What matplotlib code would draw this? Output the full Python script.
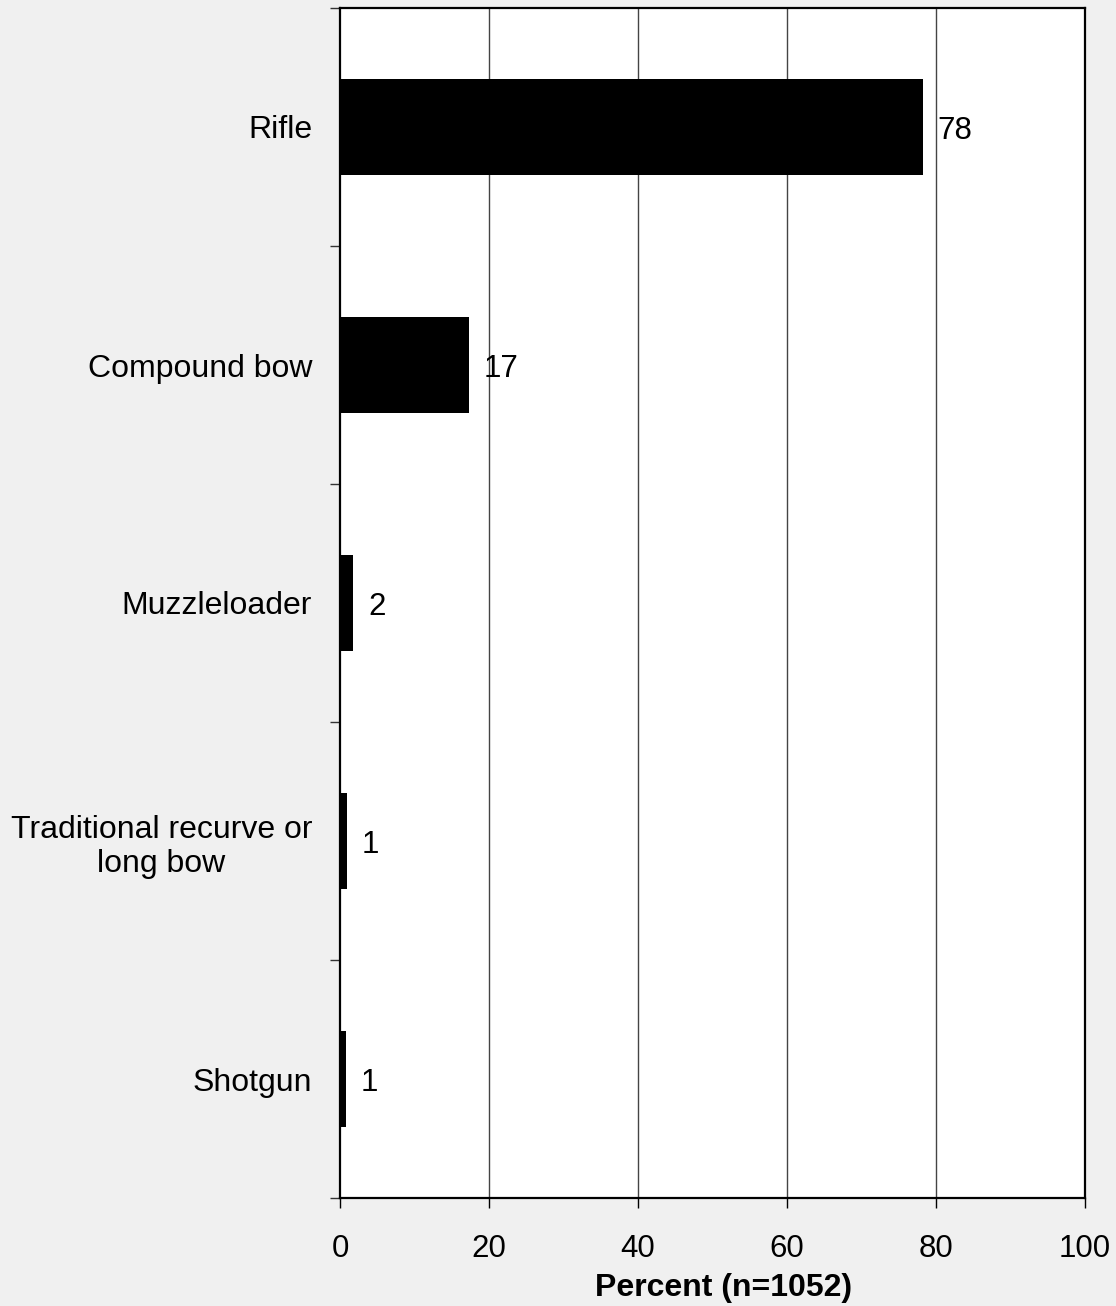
import matplotlib
matplotlib.use("Agg")
import matplotlib.pyplot as plt
import numpy as np

categories = ["Rifle", "Compound bow", "Muzzleloader", "Traditional recurve or\nlong bow", "Shotgun"]
values = [78.2, 17.3, 1.8, 0.9, 0.8]
labels = ["78", "17", "2", "1", "1"]
xticks = [0, 20, 40, 60, 80, 100]

plt.rcParams['font.family'] = ['Liberation Sans', 'DejaVu Sans']

fig = plt.figure(figsize=(11.16, 13.06), dpi=100, facecolor="#f0f0f0")
ax = fig.add_axes([340/1116, 1 - 1198/1306, 745/1116, 1190/1306])
ax.set_facecolor("white")

y = np.arange(len(categories))
ax.barh(y, values, height=0.4, color="black", zorder=3)
for yi, v, lab in zip(y, values, labels):
    ax.text(v + 2.0, yi + 0.015, lab, va="center", ha="left", fontsize=22.5, zorder=4)

ax.set_xlim(0, 100)
ax.set_ylim(len(categories) - 0.5, -0.5)
ax.set_xticks(xticks)
ax.set_xticklabels([str(t) for t in xticks], fontsize=22.5)
ax.set_yticks(np.arange(-0.5, len(categories)), minor=False)
ax.set_yticklabels([])
ax.set_yticks(y, minor=True)
ax.set_yticklabels(categories, minor=True, fontsize=23, multialignment="center")
ax.tick_params(axis="y", which="minor", length=0, pad=20)
ax.tick_params(axis="y", which="major", direction="out", length=7, width=1, color="#333333")
ax.tick_params(axis="x", direction="out", length=7, width=1, pad=19)

for gx in [20, 40, 60, 80]:
    ax.axvline(gx, color="#444444", linewidth=1, zorder=1)

for s in ax.spines.values():
    s.set_linewidth(1.6)
    s.set_color("black")

ax.set_xlabel("Percent (n=1052)", fontsize=23, fontweight="bold")
ax.xaxis.set_label_coords(0.515, -0.0755)
ax.xaxis.label.set_verticalalignment("center")

fig.savefig("out.png", dpi=100, facecolor=fig.get_facecolor())
